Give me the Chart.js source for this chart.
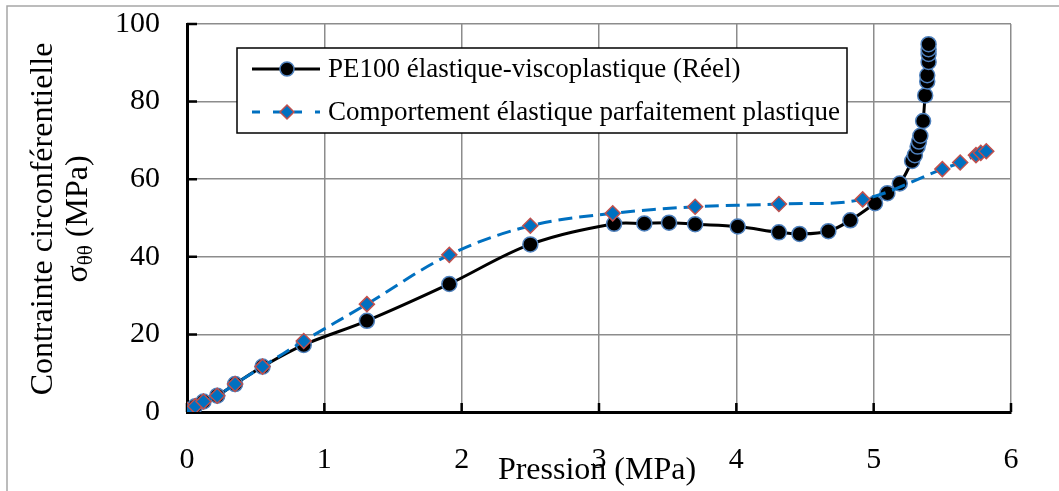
<!DOCTYPE html>
<html lang="fr">
<head>
<meta charset="utf-8">
<title>Contrainte circonférentielle</title>
<script src="https://cdn.jsdelivr.net/npm/chart.js@4.4.1/dist/chart.umd.min.js"></script>
<style>
  html, body { margin: 0; padding: 0; background: #fff; overflow: hidden; }
  canvas { display: block; }
</style>
</head>
<body>
<canvas id="chart" width="1059" height="491"></canvas>
<script>
// PE100 élastique-viscoplastique (Réel)
const pressionReel = [0, 0.06, 0.12, 0.22, 0.35, 0.55, 0.85, 1.31, 1.91, 2.50, 3.11, 3.33, 3.51, 3.70,
  4.01, 4.31, 4.46, 4.67, 4.83, 5.01, 5.10, 5.19, 5.28, 5.30, 5.32, 5.33, 5.34, 5.36, 5.375,
  5.39, 5.39, 5.40, 5.40, 5.40, 5.40];
const contrainteReel = [0.5, 1.5, 2.7, 4.2, 7.2, 11.7, 17.3, 23.5, 33.0, 43.2, 48.5, 48.6, 48.8, 48.4,
  47.8, 46.3, 45.9, 46.6, 49.4, 53.8, 56.4, 58.9, 64.7, 66.2, 68.4, 69.7, 71.2, 75.0, 81.6,
  85.2, 86.8, 90.2, 92.3, 93.5, 94.8];

// Comportement élastique parfaitement plastique
const pressionPlast = [0, 0.06, 0.12, 0.22, 0.35, 0.55, 0.85, 1.31, 1.91, 2.50, 3.10, 3.70, 4.31,
  4.92, 5.50, 5.63, 5.745, 5.78, 5.82];
const contraintePlast = [0.5, 1.5, 2.7, 4.2, 7.2, 11.7, 18.3, 27.8, 40.5, 48.0, 51.2, 52.9, 53.6,
  54.8, 62.6, 64.3, 66.2, 66.8, 67.2];

const xTicks = [0, 1, 2, 3, 4, 5, 6];
const yTicks = [0, 20, 40, 60, 80, 100];

const labelReel = 'PE100 élastique-viscoplastique (Réel)';
const labelPlast = 'Comportement élastique parfaitement plastique';

const serif = '"Liberation Serif", "Times New Roman", serif';

const toPoints = (xs, ys) => xs.map((x, i) => ({ x: x, y: ys[i] }));

// draws one legend marker in the dataset's point style
function legendMarker(ctx, ds, x, y) {
  const s = ds.pointRadius;
  ctx.fillStyle = ds.pointBackgroundColor;
  ctx.strokeStyle = ds.pointBorderColor;
  ctx.lineWidth = ds.pointBorderWidth;
  ctx.beginPath();
  if (ds.pointStyle === 'circle') {
    ctx.arc(x, y, s, 0, Math.PI * 2);
  } else {
    ctx.moveTo(x - s, y);
    ctx.lineTo(x, y - s);
    ctx.lineTo(x + s, y);
    ctx.lineTo(x, y + s);
    ctx.closePath();
  }
  ctx.fill();
  ctx.stroke();
}

// keep the plot area where the layout padding puts it
function fixScale(size) {
  return scale => {
    if (scale.isHorizontal()) scale.height = size; else scale.width = size;
    scale.paddingTop = 0;
    scale.paddingBottom = 0;
    scale.paddingLeft = 0;
    scale.paddingRight = 0;
  };
}

// frame, inward tick marks, axis titles and the boxed legend
const decorations = {
  id: 'decorations',
  beforeDraw(chart) {
    const ctx = chart.ctx;
    ctx.save();
    ctx.fillStyle = '#fff';
    ctx.fillRect(0, 0, chart.width, chart.height);
    ctx.strokeStyle = '#a6a6a6';
    ctx.lineWidth = 1.5;
    ctx.strokeRect(7, 6, chart.width + 20, chart.height + 20);
    ctx.restore();
  },
  beforeDatasetsDraw(chart) {
    const ctx = chart.ctx;
    const xs = chart.scales.x, ys = chart.scales.y;
    const area = chart.chartArea;
    ctx.save();
    ctx.strokeStyle = '#000';
    ctx.lineWidth = 2.5;
    ctx.beginPath();
    yTicks.forEach(v => {
      const py = ys.getPixelForValue(v);
      ctx.moveTo(area.left, py);
      ctx.lineTo(area.left + 10, py);
    });
    xTicks.forEach(v => {
      const px = xs.getPixelForValue(v);
      ctx.moveTo(px, area.bottom);
      ctx.lineTo(px, area.bottom - 9);
    });
    ctx.stroke();
    ctx.restore();
  },
  afterDraw(chart) {
    const ctx = chart.ctx;
    const area = chart.chartArea;
    ctx.save();
    ctx.fillStyle = '#000';

    // x title
    ctx.font = '32px ' + serif;
    ctx.textAlign = 'center';
    ctx.textBaseline = 'alphabetic';
    ctx.fillText('Pression (MPa)', 597, 479);

    // y title, two rotated lines with the σθθ subscript
    const cy = (area.top + area.bottom) / 2 + 1;
    ctx.save();
    ctx.translate(52, cy);
    ctx.rotate(-Math.PI / 2);
    ctx.font = '32px ' + serif;
    ctx.fillText('Contrainte circonférentielle', 0, 0);
    ctx.restore();

    ctx.save();
    ctx.translate(87, cy);
    ctx.rotate(-Math.PI / 2);
    ctx.textAlign = 'left';
    const big = '32px ' + serif, small = '21px ' + serif;
    ctx.font = big;
    const wSigma = ctx.measureText('σ').width;
    const wRest = ctx.measureText(' (MPa)').width;
    ctx.font = small;
    const wSub = ctx.measureText('θθ').width;
    let u = -(wSigma + wSub + wRest) / 2;
    ctx.font = big;
    ctx.fillText('σ', u, 0);
    u += wSigma;
    ctx.font = small;
    ctx.fillText('θθ', u, 5);
    u += wSub;
    ctx.font = big;
    ctx.fillText(' (MPa)', u, 0);
    ctx.restore();

    // legend
    const box = { left: 237, top: 48, right: 847, bottom: 133 };
    ctx.fillStyle = '#fff';
    ctx.fillRect(box.left, box.top, box.right - box.left, box.bottom - box.top);
    ctx.strokeStyle = '#000';
    ctx.lineWidth = 1.5;
    ctx.strokeRect(box.left, box.top, box.right - box.left, box.bottom - box.top);

    const rows = [
      { ds: chart.data.datasets[1], y: 69, label: labelReel },
      { ds: chart.data.datasets[0], y: 112, label: labelPlast }
    ];
    rows.forEach(r => {
      ctx.save();
      ctx.strokeStyle = r.ds.borderColor;
      ctx.lineWidth = r.ds.borderWidth;
      if (r.ds.borderDash) {
        ctx.setLineDash([8, 13]);
      }
      ctx.beginPath();
      ctx.moveTo(252, r.y);
      ctx.lineTo(320, r.y);
      ctx.stroke();
      ctx.restore();
      legendMarker(ctx, Object.assign({}, r.ds, { pointRadius: r.ds.pointRadius - 0.5 }), 287, r.y);
      ctx.fillStyle = '#000';
      ctx.font = '27px ' + serif;
      ctx.textAlign = 'left';
      ctx.textBaseline = 'middle';
      ctx.fillText(r.label, 328, r.y + 1);
    });
    ctx.restore();
  }
};

new Chart(document.getElementById('chart'), {
  type: 'scatter',
  data: {
    datasets: [
      {
        label: labelPlast,
        data: toPoints(pressionPlast, contraintePlast),
        showLine: true,
        tension: 0.35,
        borderColor: '#0070c0',
        borderWidth: 3,
        borderDash: [14, 7],
        pointStyle: 'rectRot',
        pointRadius: 7.5,
        pointHoverRadius: 7.5,
        pointBackgroundColor: '#0070c0',
        pointBorderColor: '#c0504d',
        pointBorderWidth: 1.5,
        order: 1
      },
      {
        label: labelReel,
        data: toPoints(pressionReel, contrainteReel),
        showLine: true,
        tension: 0.35,
        borderColor: '#000',
        borderWidth: 3,
        pointStyle: 'circle',
        pointRadius: 7.5,
        pointHoverRadius: 7.5,
        pointBackgroundColor: '#000',
        pointBorderColor: '#4f81bd',
        pointBorderWidth: 1.5,
        order: 2
      }
    ]
  },
  options: {
    responsive: false,
    animation: false,
    devicePixelRatio: 1,
    layout: { padding: { left: 0, top: 24, right: 48, bottom: 0 } },
    plugins: {
      legend: { display: false },
      tooltip: { enabled: false }
    },
    scales: {
      x: {
        type: 'linear',
        min: 0,
        max: 6,
        afterBuildTicks: scale => { scale.ticks = xTicks.map(v => ({ value: v })); },
        afterFit: fixScale(79),
        grid: { color: '#8c8c8c', lineWidth: 1.5, drawTicks: false },
        border: { color: '#000', width: 3 },
        ticks: {
          color: '#000',
          padding: 30,
          maxRotation: 0,
          font: { family: serif, size: 30 }
        }
      },
      y: {
        type: 'linear',
        min: 0,
        max: 100,
        afterBuildTicks: scale => { scale.ticks = yTicks.map(v => ({ value: v })); },
        afterFit: fixScale(187),
        grid: { color: '#8c8c8c', lineWidth: 1.5, drawTicks: false },
        border: { color: '#000', width: 3 },
        ticks: {
          color: '#000',
          padding: 27,
          font: { family: serif, size: 30 }
        }
      }
    }
  },
  plugins: [decorations]
});
</script>
</body>
</html>
